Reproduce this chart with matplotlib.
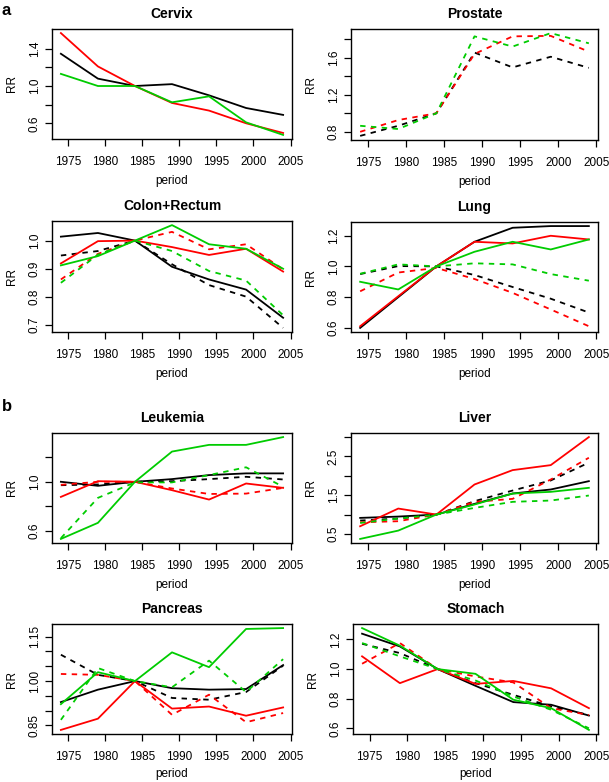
import matplotlib
matplotlib.use("Agg")
import matplotlib.pyplot as plt

plt.rcParams['font.family'] = ['Liberation Sans', 'DejaVu Sans']

periods = [1974, 1979, 1984, 1989, 1994, 1999, 2004]
xticks = [1975, 1980, 1985, 1990, 1995, 2000, 2005]

# ---- Cervix (solid only) ----
cervix_black = [1.346, 1.079, 1.0, 1.02, 0.90, 0.764, 0.69]
cervix_red = [1.568, 1.21, 1.0, 0.818, 0.736, 0.60, 0.496]
cervix_green = [1.13, 1.0, 1.0, 0.825, 0.889, 0.61, 0.475]

# ---- Prostate (dashed only) ----
prostate_black_d = [0.756, 0.865, 1.0, 1.655, 1.495, 1.61, 1.49]
prostate_red_d = [0.80, 0.927, 1.0, 1.64, 1.83, 1.835, 1.665]
prostate_green_d = [0.865, 0.83, 1.0, 1.83, 1.72, 1.865, 1.755]

# ---- Colon+Rectum ----
colon_black = [1.014, 1.027, 1.0, 0.907, 0.862, 0.826, 0.726]
colon_black_d = [0.947, 0.963, 1.0, 0.916, 0.842, 0.801, 0.69]
colon_red = [0.919, 0.998, 1.0, 0.977, 0.949, 0.971, 0.89]
colon_red_d = [0.862, 0.953, 1.0, 1.031, 0.969, 0.987, 0.898]
colon_green = [0.912, 0.945, 1.0, 1.055, 0.987, 0.971, 0.90]
colon_green_d = [0.85, 0.95, 1.0, 0.963, 0.892, 0.858, 0.735]

# ---- Lung ----
lung_black = [0.60, 0.80, 1.0, 1.16, 1.251, 1.262, 1.262]
lung_black_d = [0.95, 1.002, 1.0, 0.944, 0.866, 0.79, 0.70]
lung_red = [0.611, 0.806, 1.0, 1.16, 1.149, 1.199, 1.175]
lung_red_d = [0.838, 0.96, 0.99, 0.918, 0.828, 0.72, 0.611]
lung_green = [0.90, 0.85, 1.0, 1.095, 1.16, 1.11, 1.175]
lung_green_d = [0.952, 1.013, 1.0, 1.02, 1.013, 0.95, 0.907]

# ---- Leukemia ----
leuk_black = [1.0, 0.967, 1.0, 1.022, 1.055, 1.069, 1.069]
leuk_black_d = [0.972, 0.978, 1.0, 1.005, 1.022, 1.041, 1.019]
leuk_red = [0.876, 1.005, 1.0, 0.931, 0.854, 0.986, 0.95]
leuk_red_d = [0.975, 1.0, 1.0, 0.945, 0.90, 0.903, 0.95]
leuk_green = [0.531, 0.663, 1.0, 1.248, 1.303, 1.303, 1.367]
leuk_green_d = [0.537, 0.868, 0.995, 0.995, 1.055, 1.119, 0.959]

# ---- Liver ----
liver_black = [0.914, 0.948, 1.0, 1.276, 1.543, 1.647, 1.862]
liver_black_d = [0.845, 0.897, 1.0, 1.345, 1.62, 1.88, 2.34]
liver_red = [0.698, 1.155, 1.0, 1.776, 2.147, 2.276, 3.0]
liver_red_d = [0.80, 0.828, 1.0, 1.328, 1.405, 1.905, 2.466]
liver_green = [0.371, 0.586, 1.0, 1.259, 1.543, 1.586, 1.69]
liver_green_d = [0.784, 0.897, 1.0, 1.172, 1.328, 1.362, 1.491]

# ---- Pancreas ----
panc_black = [0.929, 0.971, 1.0, 0.976, 0.971, 0.973, 1.054]
panc_black_d = [1.089, 1.021, 1.0, 0.943, 0.937, 0.963, 1.052]
panc_red = [0.835, 0.873, 1.0, 0.907, 0.914, 0.883, 0.911]
panc_red_d = [1.024, 1.021, 1.0, 0.886, 0.954, 0.861, 0.892]
panc_green = [0.922, 1.03, 1.0, 1.097, 1.047, 1.176, 1.179]
panc_green_d = [0.869, 1.044, 1.0, 0.979, 1.069, 0.963, 1.074]

# ---- Stomach ----
stom_black = [1.239, 1.153, 1.0, 0.887, 0.777, 0.759, 0.686]
stom_black_d = [1.171, 1.108, 1.0, 0.905, 0.826, 0.748, 0.69]
stom_red = [1.086, 0.905, 1.0, 0.90, 0.92, 0.87, 0.736]
stom_red_d = [1.036, 1.176, 1.0, 0.95, 0.91, 0.736, 0.69]
stom_green = [1.277, 1.158, 1.0, 0.968, 0.793, 0.736, 0.589]
stom_green_d = [1.176, 1.086, 1.0, 0.923, 0.815, 0.725, 0.60]

# y tick positions and labels per panel
cervix_yt = [0.6, 0.8, 1.0, 1.2, 1.4]
cervix_yl = ['0.6', '', '1.0', '', '1.4']
prostate_yt = [0.8, 1.0, 1.2, 1.4, 1.6, 1.8]
prostate_yl = ['0.8', '', '1.2', '', '1.6', '']
colon_yt = [0.7, 0.8, 0.9, 1.0]
colon_yl = ['0.7', '0.8', '0.9', '1.0']
lung_yt = [0.6, 0.8, 1.0, 1.2]
lung_yl = ['0.6', '0.8', '1.0', '1.2']
leuk_yt = [0.6, 0.8, 1.0, 1.2]
leuk_yl = ['0.6', '', '1.0', '']
liver_yt = [0.5, 1.0, 1.5, 2.0, 2.5, 3.0]
liver_yl = ['0.5', '', '1.5', '', '2.5', '']
panc_yt = [0.85, 0.90, 0.95, 1.00, 1.05, 1.10, 1.15]
panc_yl = ['0.85', '', '', '1.00', '', '', '1.15']
stom_yt = [0.6, 0.8, 1.0, 1.2]
stom_yl = ['0.6', '0.8', '1.0', '1.2']

RED = '#ff0000'
GREEN = '#00cc00'
BLACK = '#000000'

panels = [
    ("Cervix", (52, 29, 292, 139), cervix_yt, cervix_yl,
     [(cervix_black, BLACK, '-'), (cervix_red, RED, '-'), (cervix_green, GREEN, '-')]),
    ("Prostate", (351, 29, 598, 140), prostate_yt, prostate_yl,
     [(prostate_black_d, BLACK, '--'), (prostate_red_d, RED, '--'), (prostate_green_d, GREEN, '--')]),
    ("Colon+Rectum", (52, 221, 292, 332), colon_yt, colon_yl,
     [(colon_black, BLACK, '-'), (colon_black_d, BLACK, '--'), (colon_red, RED, '-'),
      (colon_red_d, RED, '--'), (colon_green, GREEN, '-'), (colon_green_d, GREEN, '--')]),
    ("Lung", (351, 222, 598, 332), lung_yt, lung_yl,
     [(lung_black, BLACK, '-'), (lung_black_d, BLACK, '--'), (lung_red, RED, '-'),
      (lung_red_d, RED, '--'), (lung_green, GREEN, '-'), (lung_green_d, GREEN, '--')]),
    ("Leukemia", (52, 433, 292, 543), leuk_yt, leuk_yl,
     [(leuk_black, BLACK, '-'), (leuk_black_d, BLACK, '--'), (leuk_red, RED, '-'),
      (leuk_red_d, RED, '--'), (leuk_green, GREEN, '-'), (leuk_green_d, GREEN, '--')]),
    ("Liver", (351, 433, 598, 543), liver_yt, liver_yl,
     [(liver_black, BLACK, '-'), (liver_black_d, BLACK, '--'), (liver_red, RED, '-'),
      (liver_red_d, RED, '--'), (liver_green, GREEN, '-'), (liver_green_d, GREEN, '--')]),
    ("Pancreas", (52, 624, 292, 734), panc_yt, panc_yl,
     [(panc_black, BLACK, '-'), (panc_black_d, BLACK, '--'), (panc_red, RED, '-'),
      (panc_red_d, RED, '--'), (panc_green, GREEN, '-'), (panc_green_d, GREEN, '--')]),
    ("Stomach", (353, 624, 598, 734), stom_yt, stom_yl,
     [(stom_black, BLACK, '-'), (stom_black_d, BLACK, '--'), (stom_red, RED, '-'),
      (stom_red_d, RED, '--'), (stom_green, GREEN, '-'), (stom_green_d, GREEN, '--')]),
]

W, H = 609, 782
fig = plt.figure(figsize=(W / 100, H / 100), dpi=100)

for i, (title, (x0, y0, x1, y1), yt, yl, series) in enumerate(panels):
    ax = fig.add_axes([x0 / W, 1 - y1 / H, (x1 - x0) / W, (y1 - y0) / H])
    for vals, col, ls in series:
        if ls == '--':
            ax.plot(periods, vals, color=col, lw=1.3, linestyle=(0, (3, 3)))
        else:
            ax.plot(periods, vals, color=col, lw=1.3, linestyle='-')
    ax.margins(x=0.04, y=0.04)
    ax.set_xticks(xticks)
    ax.set_xticklabels([str(t) for t in xticks])
    ax.set_yticks(yt)
    ax.set_yticklabels(yl, rotation=90, va='center')
    ax.tick_params(direction='out', length=5, width=0.9, labelsize=8.5, pad=3)
    ax.tick_params(axis='x', pad=7)
    for s in ax.spines.values():
        s.set_linewidth(1.0)
    ax.set_title(title, fontsize=10, fontweight='bold', pad=8)
    ax.set_xlabel('period', fontsize=8.5, labelpad=4 if i >= 6 else 5)
    ax.set_ylabel('RR', fontsize=8.5, labelpad=8)

fig.text(2 / W, 1 - 3 / H, 'a', fontsize=12, fontweight='bold', va='top', ha='left')
fig.text(2 / W, 1 - 399 / H, 'b', fontsize=12, fontweight='bold', va='top', ha='left')

fig.savefig('out.png', dpi=100)
